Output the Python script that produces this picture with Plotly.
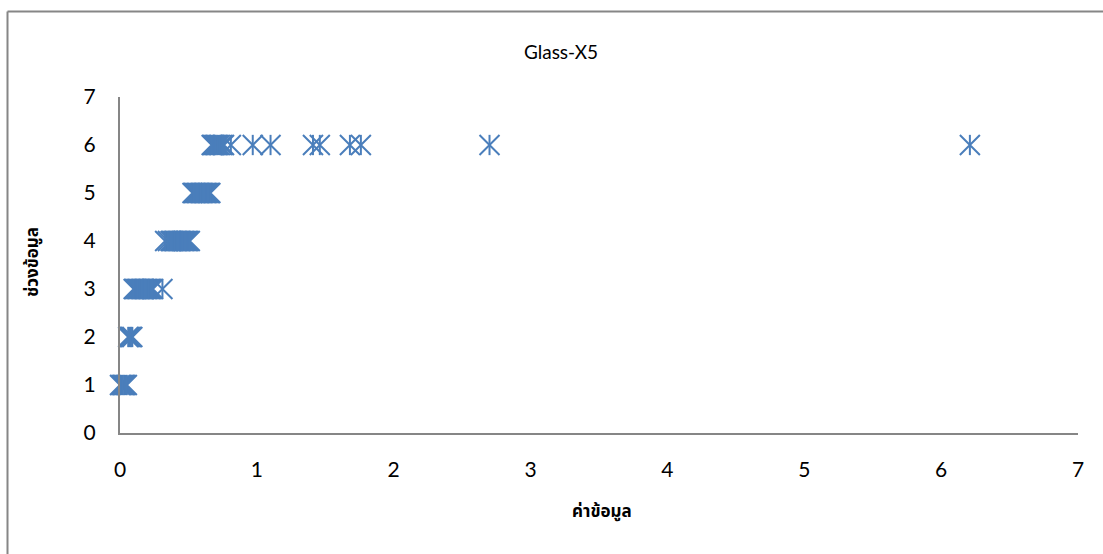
import plotly.graph_objects as go

# K values grouped by their range bin (y = bin number)
bin_1 = [0.00, 0.01, 0.02, 0.03, 0.04, 0.05]
bin_2 = [0.06, 0.07, 0.08, 0.09]
bin_3 = [0.10, 0.11, 0.12, 0.13, 0.14, 0.15, 0.16, 0.17, 0.18, 0.19, 0.20,
         0.21, 0.22, 0.23, 0.24, 0.31]
bin_4 = [0.33, 0.35, 0.37, 0.38, 0.39, 0.40, 0.41, 0.42, 0.43, 0.44, 0.45,
         0.46, 0.47, 0.48, 0.49, 0.50, 0.51]
bin_5 = [0.53, 0.54, 0.55, 0.56, 0.57, 0.58, 0.59, 0.60, 0.61, 0.62, 0.63,
         0.64, 0.65, 0.66]
bin_6 = [0.67, 0.68, 0.69, 0.70, 0.71, 0.72, 0.73, 0.75, 0.76, 0.81, 0.97,
         1.10, 1.41, 1.46, 1.68, 1.76, 2.70, 6.21]

bins = [bin_1, bin_2, bin_3, bin_4, bin_5, bin_6]
x_vals = [v for b in bins for v in b]
y_vals = [i + 1 for i, b in enumerate(bins) for _ in b]

tick_vals = [0, 1, 2, 3, 4, 5, 6, 7]
tick_text = [str(t) for t in tick_vals]

BLUE = "#4A7EBB"
GREY = "#868686"
TICK_FONT = dict(family="Lato, Carlito, Calibri, sans-serif", size=21, color="#000000")
THAI_FONT = "Noto Sans Thai, Tahoma, Loma, sans-serif"

fig = go.Figure()
# star marker = diagonal cross + vertical stroke
fig.add_trace(go.Scatter(
    x=x_vals, y=y_vals, mode="markers", cliponaxis=False,
    marker=dict(symbol="x-thin-open", size=20, color=BLUE,
                line=dict(color=BLUE, width=2)),
    showlegend=False, hoverinfo="skip",
))
fig.add_trace(go.Scatter(
    x=x_vals, y=y_vals, mode="markers", cliponaxis=False,
    marker=dict(symbol="line-ns-open", size=14.5, color=BLUE,
                line=dict(color=BLUE, width=2)),
    showlegend=False,
))

L, R, T, B = 120, 25, 97, 121
W, H = 1103, 554
pw, ph = W - L - R, H - T - B

fig.update_layout(
    width=W, height=H,
    margin=dict(l=L, r=R, t=T, b=B),
    paper_bgcolor="white", plot_bgcolor="white",
    title=dict(text="Glass-X5", x=(561 - L) / pw, xref="paper", xanchor="center",
               y=1 - 52 / H, yref="container", yanchor="middle",
               font=dict(family="Lato, Carlito, Calibri, sans-serif", size=19, color="#000000")),
    xaxis=dict(range=[0, 7], tickvals=tick_vals, ticktext=tick_text,
               showgrid=False, zeroline=False, showline=True, linecolor=GREY,
               linewidth=2, ticks="", ticklabelstandoff=17, tickfont=TICK_FONT,
               fixedrange=True),
    yaxis=dict(range=[0, 7], tickvals=tick_vals, ticktext=tick_text,
               showgrid=False, zeroline=False, showline=True, linecolor=GREY,
               linewidth=2, ticks="", ticklabelstandoff=18, tickfont=TICK_FONT,
               fixedrange=True),
    annotations=[
        dict(text="<b>ค่าข้อมูล</b>", xref="paper", yref="paper",
             x=(602 - L) / pw, y=-(512 - (T + ph)) / ph, xanchor="center", yanchor="middle",
             showarrow=False, font=dict(family=THAI_FONT, size=17, color="#000000")),
        dict(text="<b>ช่วงข้อมูล</b>", xref="paper", yref="paper",
             x=-(L - 33) / pw, y=1 - (262 - T) / ph, xanchor="center", yanchor="middle",
             textangle=-90, showarrow=False,
             font=dict(family=THAI_FONT, size=17, color="#000000")),
    ],
    shapes=[
        # chart area border (top and left edges)
        dict(type="line", xref="paper", yref="paper",
             x0=(7.5 - L) / pw, x1=(W + 5 - L) / pw,
             y0=1 + (T - 11.5) / ph, y1=1 + (T - 11.5) / ph,
             line=dict(color=GREY, width=2)),
        dict(type="line", xref="paper", yref="paper",
             x0=(7.5 - L) / pw, x1=(7.5 - L) / pw,
             y0=1 + (T - 11.5) / ph, y1=-(B + 5) / ph,
             line=dict(color=GREY, width=2)),
    ],
)

fig.write_html("out.html")
